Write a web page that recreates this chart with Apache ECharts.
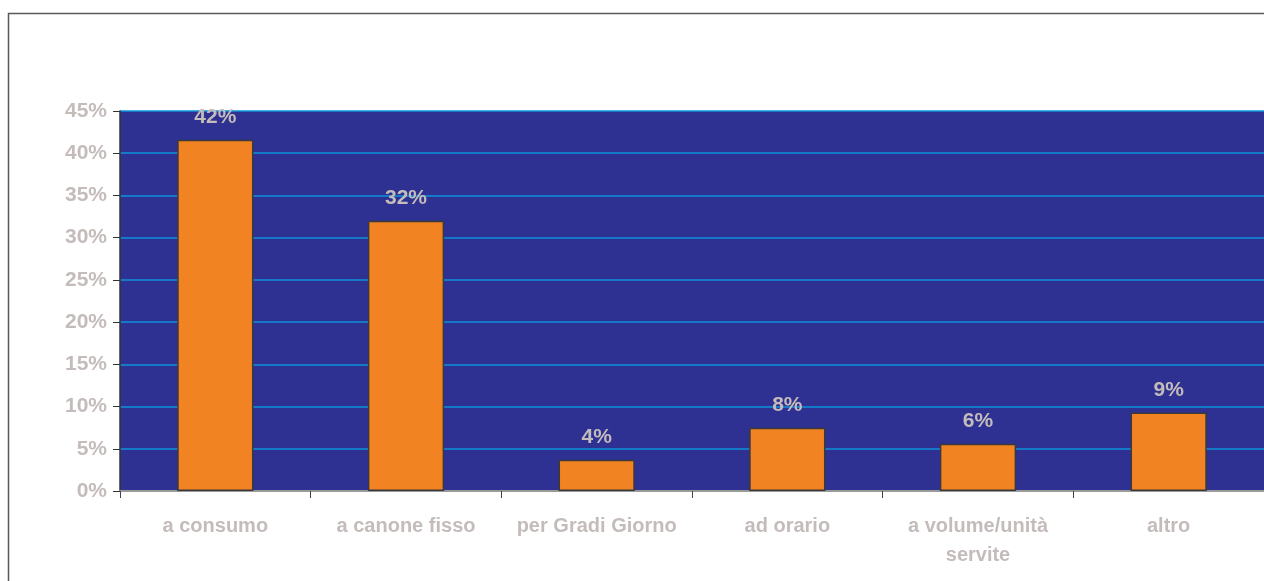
<!DOCTYPE html>
<html>
<head>
<meta charset="utf-8">
<script src="https://cdn.jsdelivr.net/npm/echarts@6/dist/echarts.min.js"></script>
<style>
html,body{margin:0;padding:0;background:#fff;}
#c{width:1264px;height:581px;}
</style>
</head>
<body>
<div id="c"></div>
<script>
var categories = ['a consumo', 'a canone fisso', 'per Gradi Giorno', 'ad orario', 'a volume/unità\nservite', 'altro'];
var values = [41.6, 32.0, 3.7, 7.5, 5.6, 9.3];
var valueLabels = ['42%', '32%', '4%', '8%', '6%', '9%'];
var yTicks = {min: 0, max: 45, interval: 5};

var chart = echarts.init(document.getElementById('c'), null, {renderer: 'canvas'});
var labelColor = '#C4BCBA';
var font = '"Liberation Sans", Arial, Helvetica, sans-serif';
chart.setOption({
  animation: false,
  backgroundColor: '#ffffff',
  graphic: [{
    type: 'rect',
    shape: {x: 8.5, y: 13.5, width: 1300, height: 620},
    style: {fill: 'none', stroke: '#5a5a5a', lineWidth: 1.5},
    silent: true,
    z: -10
  }],
  grid: {
    left: 120, top: 111, right: 0, bottom: 90,
    show: true, backgroundColor: '#2E3192', borderWidth: 0
  },
  xAxis: {
    type: 'category',
    data: categories,
    axisLine: {show: true, lineStyle: {color: '#9a9a9a', width: 2}},
    axisTick: {show: true, length: 7, lineStyle: {color: '#444'}, alignWithLabel: false},
    axisLabel: {
      color: labelColor, fontSize: 20, fontWeight: 'bold', fontFamily: font,
      margin: 21, lineHeight: 29, interval: 0
    },
    splitLine: {show: false}
  },
  yAxis: {
    type: 'value',
    min: yTicks.min, max: yTicks.max, interval: yTicks.interval,
    axisLine: {show: true, lineStyle: {color: '#333', width: 1.5}},
    axisTick: {show: true, length: 7, lineStyle: {color: '#333'}},
    axisLabel: {
      color: labelColor, fontSize: 21, fontWeight: 'bold', fontFamily: font,
      margin: 13, formatter: '{value}%'
    },
    splitLine: {show: true, lineStyle: {color: '#0C93DA', width: 1.5}}
  },
  series: [{
    type: 'bar',
    data: values,
    barWidth: '40%',
    itemStyle: {color: '#F28322', borderColor: '#3a3a3a', borderWidth: 1.5},
    label: {
      show: true, position: 'top', distance: 12,
      color: labelColor, fontSize: 21, fontWeight: 'bold', fontFamily: font,
      formatter: function (p) { return valueLabels[p.dataIndex]; }
    }
  }]
});
</script>
</body>
</html>
